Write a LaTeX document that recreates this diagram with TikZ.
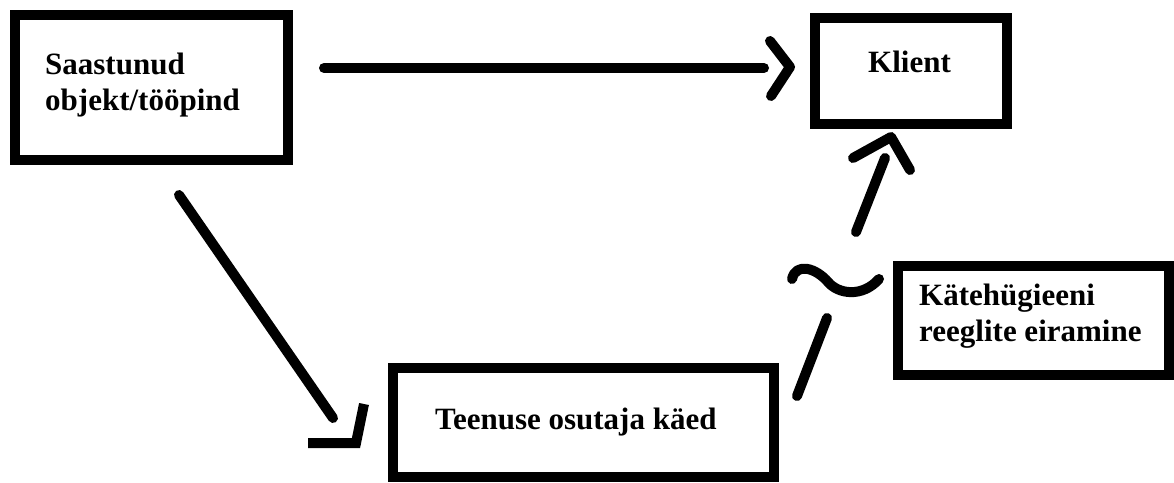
\documentclass[tikz,border=0pt]{standalone}
\usepackage{fontspec}
\setmainfont{Liberation Serif}
\begin{document}
\begin{tikzpicture}[x=1pt,y=-1pt,
  box/.style={draw=black,line width=10pt,line join=miter},
  lbl/.style={anchor=base west,inner sep=0pt,font=\bfseries\fontsize{31}{35.5}\selectfont,align=left},
  stroke/.style={line width=10pt,line cap=round,line join=round},
  flat/.style={line width=10pt,line cap=butt,line join=miter}]
\useasboundingbox (0,0) rectangle (1174,482);
% boxes
\draw[box] (15,15) rectangle (288,160);
\node[lbl] (src) at (45,110) {Saastunud\\objekt/tööpind};
\draw[box] (815,18) rectangle (1007,124);
\node[lbl] (kl) at (868,72) {Klient};
\draw[box] (898,266) rectangle (1169,375);
\node[lbl] (kh) at (919,341) {Kätehügieeni\\reeglite eiramine};
\draw[box] (393,368) rectangle (774,477);
\node[lbl] (te) at (435,429) {Teenuse osutaja käed};
% arrow 1
\coordinate (a1s) at (324,68);
\coordinate (a1e) at (764,68);
\coordinate (h1a) at (770,41);
\coordinate (h1t) at (790,67);
\coordinate (h1b) at (771,96);
\draw[stroke] (a1s) -- (a1e);
\draw[stroke] (h1a) -- (h1t) -- (h1b);
% arrow 2
\coordinate (a2s) at (179,195);
\coordinate (a2e) at (333,418);
\coordinate (h2a) at (308,443);
\coordinate (h2t) at (356,443);
\coordinate (h2b) at (364,404);
\draw[stroke] (a2s) -- (a2e);
\draw[flat] (h2a) -- (h2t) -- (h2b);
% arrow 3
\coordinate (a3s) at (797,396);
\coordinate (a3m) at (827,318);
\coordinate (t1) at (792,279);
\coordinate (t3) at (879,279);
\coordinate (a3u) at (856,232);
\coordinate (a3e) at (885,158);
\coordinate (h3a) at (853,158);
\coordinate (h3t) at (891,137);
\coordinate (h3b) at (910,170);
\draw[stroke] (a3s) -- (a3m);
\draw[stroke] (t1) .. controls (796,262) and (816,268) .. (828,282) .. controls (838,294) and (862,298) .. (t3);
\draw[stroke] (a3u) -- (a3e);
\draw[stroke] (h3a) -- (h3t) -- (h3b);
\end{tikzpicture}
\end{document}
